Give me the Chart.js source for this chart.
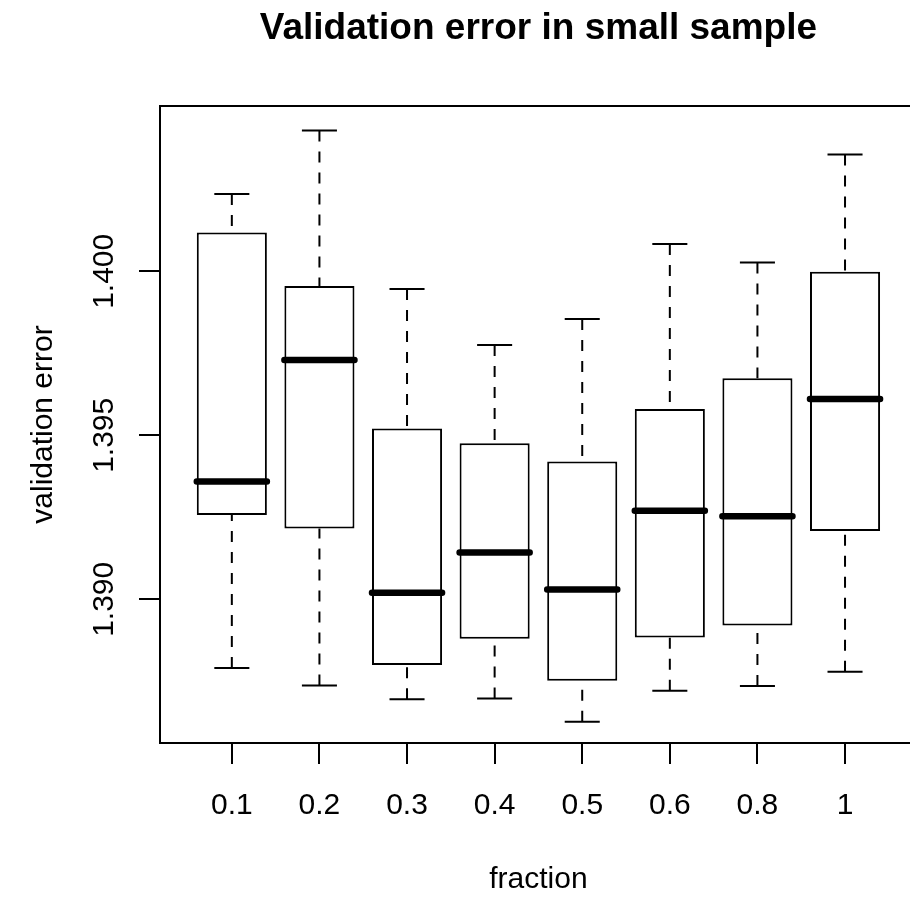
<!DOCTYPE html>
<html>
<head>
<meta charset="utf-8">
<script src="https://cdn.jsdelivr.net/npm/chart.js@4.4.0/dist/chart.umd.min.js"></script>
<style>
  html, body { margin: 0; padding: 0; background: #fff; overflow: hidden; }
  canvas { display: block; }
</style>
</head>
<body>
<canvas id="chart" width="910" height="898"></canvas>
<script>
// values (one box per fraction)
const FRACTIONS = ['0.1', '0.2', '0.3', '0.4', '0.5', '0.6', '0.8', '1'];
const LOWER_WHISKER = [1.38791, 1.38737, 1.38695, 1.38698, 1.38627, 1.38721, 1.38736, 1.38779];
const Q1 = [1.39257, 1.39216, 1.38800, 1.38880, 1.38752, 1.38884, 1.38920, 1.39208];
const MEDIAN = [1.39359, 1.39730, 1.39020, 1.39143, 1.39030, 1.39270, 1.39253, 1.39611];
const Q3 = [1.40118, 1.39955, 1.39521, 1.39476, 1.39420, 1.39580, 1.39674, 1.39999];
const UPPER_WHISKER = [1.40236, 1.40429, 1.39946, 1.39775, 1.39855, 1.40083, 1.40027, 1.40356];

const Y_TICKS = [1.390, 1.395, 1.400];
const Y_TICK_LABELS = ['1.390', '1.395', '1.400'];

const TITLE = 'Validation error in small sample';
const X_TITLE = 'fraction';
const Y_TITLE = 'validation error';

const FONT = '"Liberation Sans", Arial, Helvetica, sans-serif';
const BOX_HALF = 0.4;    // boxwex 0.8
const STAPLE_HALF = 0.2; // staplewex 0.5
const positions = FRACTIONS.map((_, i) => i + 1);

// list of [from, to] pairs -> line data with a gap after each pair
const segs = (pairs) => pairs.flatMap(([a, b]) => [a, b, { x: b.x, y: null }]);

const whiskers = segs(positions.flatMap((x, i) => [
  [{ x, y: UPPER_WHISKER[i] }, { x, y: Q3[i] }],
  [{ x, y: LOWER_WHISKER[i] }, { x, y: Q1[i] }],
]));
const staples = segs(positions.flatMap((x, i) => [
  [{ x: x - STAPLE_HALF, y: UPPER_WHISKER[i] }, { x: x + STAPLE_HALF, y: UPPER_WHISKER[i] }],
  [{ x: x - STAPLE_HALF, y: LOWER_WHISKER[i] }, { x: x + STAPLE_HALF, y: LOWER_WHISKER[i] }],
]));
const medians = segs(positions.map((x, i) => [
  { x: x - BOX_HALF, y: MEDIAN[i] }, { x: x + BOX_HALF, y: MEDIAN[i] },
]));

const lineDs = (data, extra) => ({
  type: 'line', data, borderColor: '#000', borderWidth: 2, pointRadius: 0,
  spanGaps: false, fill: false, tension: 0, ...extra,
});

// R-style frame top line + all the text
const decorations = {
  id: 'decorations',
  afterDraw(chart) {
    const { ctx, chartArea: a, scales: { x, y } } = chart;
    const cx = x.getPixelForValue(4.5);
    ctx.save();
    ctx.strokeStyle = '#000';
    ctx.lineWidth = 2;
    ctx.beginPath();
    ctx.moveTo(a.left - 1, a.top);
    ctx.lineTo(a.right, a.top);
    ctx.stroke();

    ctx.fillStyle = '#000';
    ctx.textAlign = 'center';
    ctx.textBaseline = 'alphabetic';
    ctx.font = `bold 37px ${FONT}`;
    ctx.fillText(TITLE, cx, 39);

    ctx.font = `30px ${FONT}`;
    positions.forEach((v, i) => ctx.fillText(FRACTIONS[i], x.getPixelForValue(v), 814));
    ctx.fillText(X_TITLE, cx, 888);

    Y_TICKS.forEach((v, i) => {
      ctx.save();
      ctx.translate(113, y.getPixelForValue(v));
      ctx.rotate(-Math.PI / 2);
      ctx.fillText(Y_TICK_LABELS[i], 0, 0);
      ctx.restore();
    });
    ctx.save();
    ctx.translate(52, (a.top + a.bottom) / 2);
    ctx.rotate(-Math.PI / 2);
    ctx.fillText(Y_TITLE, 0, 0);
    ctx.restore();
    ctx.restore();
  },
};

const axisStyle = {
  offset: false,
  ticks: { display: false },
  grid: { offset: false, drawOnChartArea: false, drawTicks: true, tickLength: 21, color: '#000', lineWidth: 2 },
  border: { display: true, color: '#000', width: 2 },
};

new Chart(document.getElementById('chart').getContext('2d'), {
  data: {
    datasets: [
      {
        type: 'bar',
        data: positions.map((x, i) => ({ x, y: [Q1[i], Q3[i]] })),
        backgroundColor: '#fff',
        borderColor: '#000',
        borderWidth: 2,
        borderSkipped: false,
        barPercentage: 0.8,
        categoryPercentage: 1,
        order: 4,
      },
      lineDs(whiskers, { borderDash: [11, 10], order: 3 }),
      lineDs(staples, { order: 2 }),
      lineDs(medians, { borderWidth: 6.5, borderCapStyle: 'round', order: 1 }),
    ],
  },
  options: {
    responsive: false,
    animation: false,
    events: [],
    layout: { padding: { top: 106, right: 0, bottom: 0, left: 0 } },
    plugins: { legend: { display: false }, tooltip: { enabled: false }, title: { display: false } },
    scales: {
      x: {
        type: 'linear', min: 0.18, max: 8.7417,
        afterBuildTicks: (s) => { s.ticks = positions.map((v) => ({ value: v })); },
        afterFit: (s) => { s.height = 155; },
        ...axisStyle,
      },
      y: {
        type: 'linear', min: 1.38562, max: 1.40504,
        afterBuildTicks: (s) => { s.ticks = Y_TICKS.map((v) => ({ value: v })); },
        afterFit: (s) => { s.width = 160; },
        ...axisStyle,
      },
    },
  },
  plugins: [decorations],
});
</script>
</body>
</html>
